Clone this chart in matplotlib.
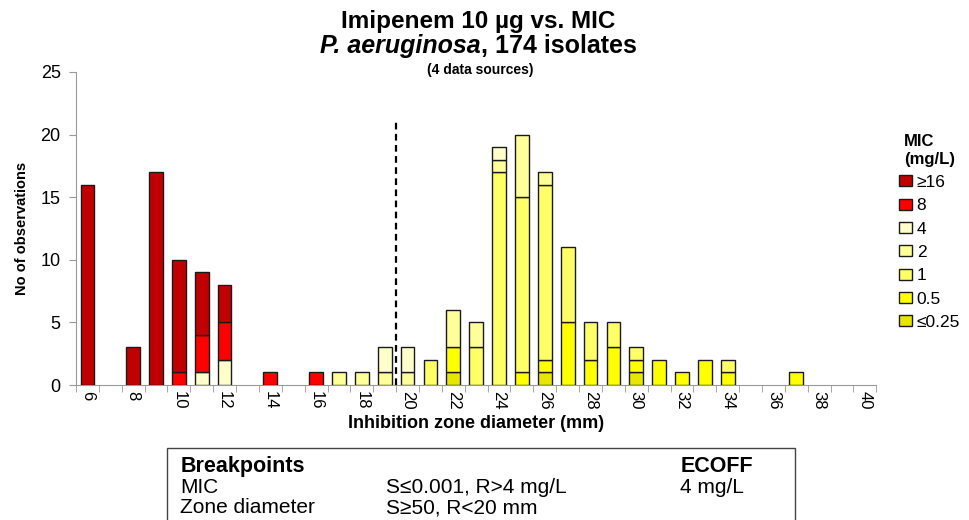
import matplotlib
matplotlib.use("Agg")
import matplotlib.pyplot as plt
from matplotlib.patches import Patch, Rectangle

plt.rcParams['font.family'] = ['Liberation Sans', 'DejaVu Sans']

# zone diameters (mm), one category each
diameters = list(range(6, 41))

# counts per MIC class, keyed by zone diameter
mic_le025 = {22: 1, 26: 1, 30: 1}
mic_05 = {22: 2, 25: 1, 26: 1, 27: 5, 28: 2, 29: 3, 30: 1, 31: 2, 32: 1, 33: 2, 34: 1, 37: 1}
mic_1 = {21: 2, 23: 3, 24: 17, 25: 14, 26: 14, 27: 6, 28: 3, 29: 2, 30: 1, 34: 1}
mic_2 = {17: 1, 18: 1, 19: 1, 20: 1, 22: 3, 23: 2, 24: 1, 25: 5, 26: 1}
mic_4 = {11: 1, 12: 2, 19: 2, 20: 2, 24: 1}
mic_8 = {10: 1, 11: 3, 12: 3, 14: 1, 16: 1}
mic_ge16 = {6: 16, 8: 3, 9: 17, 10: 9, 11: 5, 12: 3}

# stacking order, bottom to top
series = [mic_le025, mic_05, mic_1, mic_2, mic_4, mic_8, mic_ge16]
series_labels = ['\u22640.25', '0.5', '1', '2', '4', '8', '\u226516']
colors = ['#E6E600', '#FFFF00', '#FFFF66', '#FFFF99', '#FFFFCC', '#FF0000', '#C00000']

breakpoint_line = 19.5
breakpoint_top = 21.2

fig = plt.figure(figsize=(9.69, 5.2), dpi=100)
ax = fig.add_axes([0.0784, 0.2596, 0.826, 0.602])

stack = {d: 0 for d in diameters}
for data, col in zip(series, colors):
    xs = [d for d in diameters if data.get(d, 0) > 0]
    vals = [data[d] for d in xs]
    bots = [stack[d] for d in xs]
    ax.bar(xs, vals, width=0.6, bottom=bots, color=col,
           edgecolor='#1a1a1a', linewidth=1.0, zorder=3)
    for d, v in zip(xs, vals):
        stack[d] += v

ax.vlines(breakpoint_line, 0, breakpoint_top, color='black',
          linestyle=(0, (3, 2)), linewidth=1.6, zorder=4)

ax.set_xlim(5.5, 40.5)
ax.set_ylim(0, 25)
ax.set_yticks([0, 5, 10, 15, 20, 25])
ax.set_xticks(range(6, 41, 2))
ax.set_xticks([d + 0.5 for d in range(5, 41)], minor=True)
ax.tick_params(axis='x', which='major', length=0, labelsize=12, rotation=270, pad=4)
ax.tick_params(axis='x', which='minor', length=5, color='#999999')
ax.tick_params(axis='y', length=5, color='#999999', labelsize=13, pad=6)
for side in ['top', 'right']:
    ax.spines[side].set_visible(False)
for side in ['left', 'bottom']:
    ax.spines[side].set_color('#999999')

ax.set_xlabel('Inhibition zone diameter (mm)', fontsize=13, fontweight='bold', labelpad=4)
ax.set_ylabel('No of observations', fontsize=10.5, fontweight='bold',
              family=['Liberation Sans Narrow', 'Liberation Sans'], labelpad=8)

# legend, top to bottom from >=16 down to <=0.25
handles = [Patch(facecolor=c, edgecolor='#1a1a1a', label=l)
           for c, l in zip(colors[::-1], series_labels[::-1])]
leg = fig.legend(handles=handles, loc='upper left', bbox_to_anchor=(0.912, 0.772),
                 frameon=False, fontsize=12.5, handlelength=0.7, handleheight=0.6,
                 handletextpad=0.3, labelspacing=0.48,
                 title='MIC\n(mg/L)', title_fontproperties={'weight': 'bold', 'size': 12})

# titles
fig.text(0.494, 0.958, 'Imipenem 10 \u00b5g vs. MIC', ha='center', va='center',
         fontsize=17.5, fontweight='bold')
fig.canvas.draw()
r = fig.canvas.get_renderer()
t_it = fig.text(0, 0.911, 'P. aeruginosa', ha='left', va='center',
                fontsize=18, fontweight='bold', style='italic')
t_rest = fig.text(0, 0.911, ', 174 isolates', ha='left', va='center',
                  fontsize=18, fontweight='bold')
w1 = t_it.get_window_extent(r).width / fig.bbox.width
w2 = t_rest.get_window_extent(r).width / fig.bbox.width
x0 = 0.494 - (w1 + w2) / 2
t_it.set_x(x0)
t_rest.set_x(x0 + w1)
fig.text(0.496, 0.866, '(4 data sources)', ha='center', va='center',
         fontsize=10, fontweight='bold')

# breakpoint table
fig.patches.append(Rectangle((0.1725, -0.05), 0.648, 0.188, transform=fig.transFigure,
                             facecolor='white', edgecolor='#444444', linewidth=1))
rows_y = [0.102, 0.062, 0.024]
fig.text(0.186, rows_y[0], 'Breakpoints', fontsize=15.5, fontweight='bold', va='center')
fig.text(0.702, rows_y[0], 'ECOFF', fontsize=15.5, fontweight='bold', va='center')
fig.text(0.186, rows_y[1], 'MIC', fontsize=15, va='center')
fig.text(0.398, rows_y[1], 'S\u22640.001, R>4 mg/L', fontsize=15, va='center')
fig.text(0.702, rows_y[1], '4 mg/L', fontsize=15, va='center')
fig.text(0.186, rows_y[2], 'Zone diameter', fontsize=15, va='center')
fig.text(0.398, rows_y[2], 'S\u226550, R<20 mm', fontsize=15, va='center')

fig.savefig('out.png', dpi=100)
